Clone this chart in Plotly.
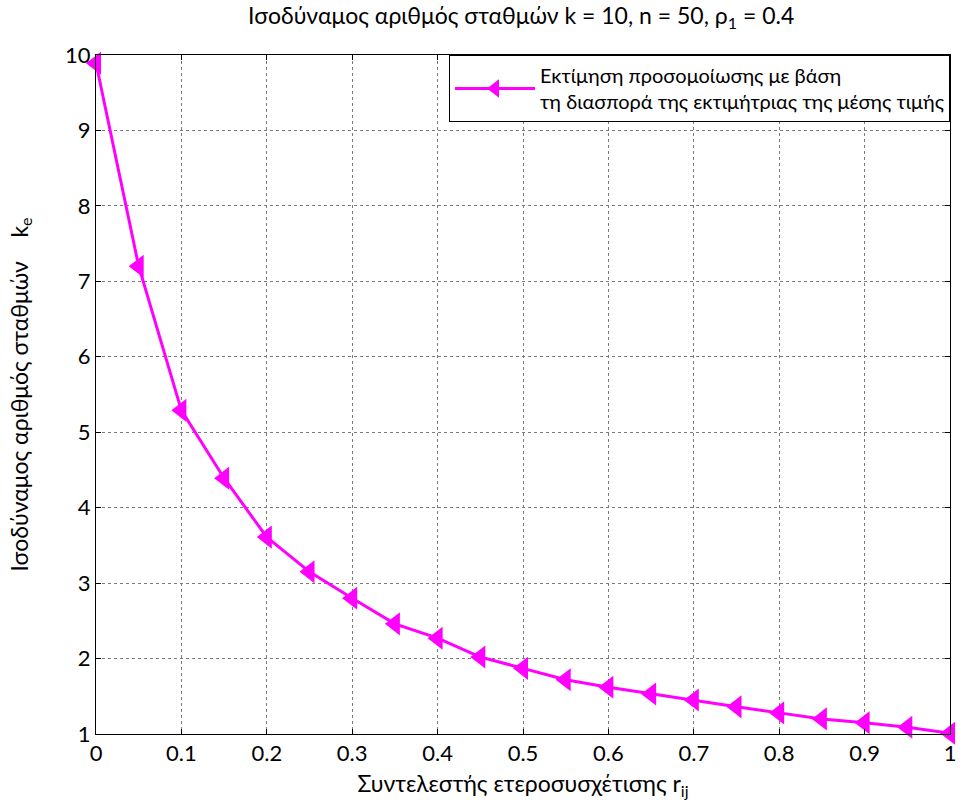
import plotly.graph_objects as go

r_values = [0, 0.05, 0.1, 0.15, 0.2, 0.25, 0.3, 0.35, 0.4, 0.45, 0.5,
            0.55, 0.6, 0.65, 0.7, 0.75, 0.8, 0.85, 0.9, 0.95, 1.0]
ke_values = [9.89, 7.20, 5.29, 4.39, 3.61, 3.15, 2.80, 2.46, 2.27, 2.02, 1.87,
             1.72, 1.62, 1.53, 1.45, 1.36, 1.28, 1.20, 1.15, 1.09, 1.01]
x_ticks = [0, 0.1, 0.2, 0.3, 0.4, 0.5, 0.6, 0.7, 0.8, 0.9, 1]
x_tick_labels = ["0", "0.1", "0.2", "0.3", "0.4", "0.5", "0.6", "0.7", "0.8", "0.9", "1"]
y_ticks = [1, 2, 3, 4, 5, 6, 7, 8, 9, 10]

FONT = "Lato, Open Sans, sans-serif"

fig = go.Figure()
fig.add_trace(go.Scatter(
    x=r_values, y=ke_values, mode="lines+markers",
    name="Εκτίμηση προσομοίωσης με βάση<br>τη διασπορά της εκτιμήτριας της μέσης τιμής",
    line=dict(color="#FF00FF", width=3),
    marker=dict(symbol="triangle-left", size=20, color="#FF00FF"),
    cliponaxis=False,
))

axis_common = dict(
    showline=True, linecolor="black", linewidth=1, mirror="allticks",
    ticks="inside", ticklen=5, tickcolor="black",
    showgrid=True, gridcolor="#7a7a7a", griddash="dot", gridwidth=1,
    zeroline=False, tickfont=dict(size=22, color="black", family=FONT),
)

fig.update_layout(
    width=967, height=807,
    margin=dict(l=96, r=11, t=55, b=73),
    paper_bgcolor="white", plot_bgcolor="white",
    font=dict(family=FONT, color="black"),
    title=dict(text="Ισοδύναμος αριθμός σταθμών k = 10, n = 50, ρ<sub>1</sub> = 0.4",
               x=0.539, xanchor="center", y=0.99, yanchor="top",
               font=dict(size=23, family=FONT, color="black")),
    xaxis=dict(range=[0, 1], tickvals=x_ticks, ticktext=x_tick_labels,
               title=dict(text="Συντελεστής ετεροσυσχέτισης r<sub>ij</sub>",
                          font=dict(size=23, family=FONT), standoff=10),
               **axis_common),
    yaxis=dict(range=[1, 10], tickvals=y_ticks,
               title=dict(text="Ισοδύναμος αριθμός σταθμών&nbsp;&nbsp;&nbsp;&nbsp;k<sub>e</sub>",
                          font=dict(size=23, family=FONT), standoff=30),
               **axis_common),
    legend=dict(x=1, xanchor="right", y=1, yanchor="top",
                bgcolor="white", bordercolor="black", borderwidth=1,
                itemwidth=80,
                font=dict(size=20, family=FONT, color="black")),
    showlegend=True,
)

fig.write_html("out.html")
